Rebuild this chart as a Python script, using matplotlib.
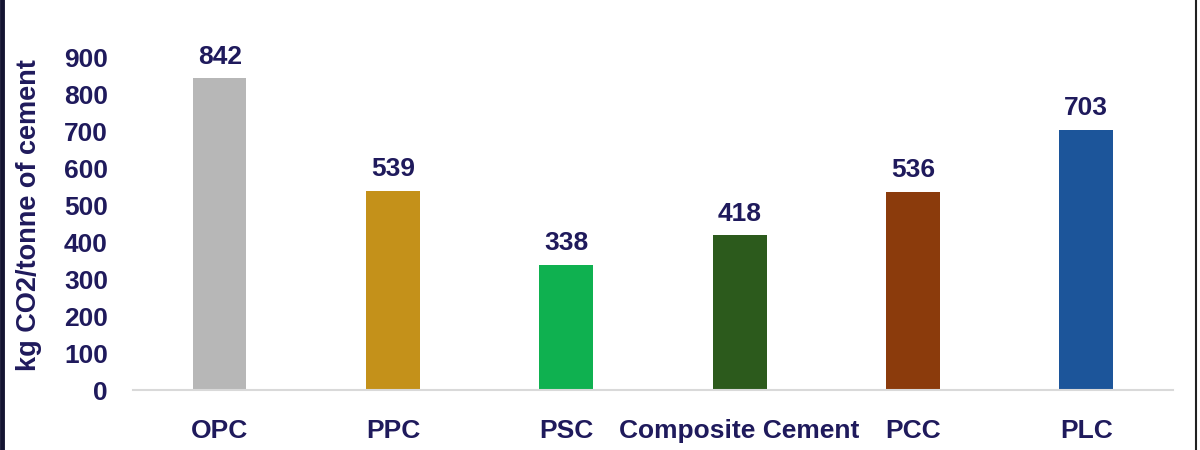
import numpy as np
import matplotlib.pyplot as plt
from matplotlib.lines import Line2D

categories = ['OPC', 'PPC', 'PSC', 'Composite Cement', 'PCC', 'PLC']
values = [842, 539, 338, 418, 536, 703]
colors = ['#b7b7b7', '#c4911a', '#0fb150', '#2c5a1c', '#8b3b0c', '#1c559a']
yticks = [0, 100, 200, 300, 400, 500, 600, 700, 800, 900]

navy = '#1f1a5c'
plt.rcParams['font.family'] = ['Liberation Sans', 'DejaVu Sans']
plt.rcParams['font.weight'] = 'bold'

fig = plt.figure(figsize=(12, 4.5), dpi=100)
ax = fig.add_axes([0.1108, 0.1333, 0.8667, 0.74])

x = np.arange(len(categories))
bars = ax.bar(x, values, width=0.31, color=colors)

for rect, v in zip(bars, values):
    ax.annotate(str(v), (rect.get_x() + rect.get_width() / 2, v),
                xytext=(0, 7), textcoords='offset points',
                ha='center', va='bottom', fontsize=19, fontweight='bold', color=navy)

ax.set_xlim(-0.5, len(categories) - 0.5)
ax.set_ylim(0, 900)
ax.set_yticks(yticks)
ax.set_yticklabels([str(t) for t in yticks], fontsize=19, fontweight='bold', color=navy)
ax.set_xticks(x)
ax.set_xticklabels(categories, fontsize=19, fontweight='bold', color=navy)
ax.tick_params(axis='both', length=0)
ax.tick_params(axis='y', pad=18)
ax.tick_params(axis='x', pad=21)

for s in ['top', 'right', 'left']:
    ax.spines[s].set_visible(False)
ax.spines['bottom'].set_color('#d9d9d9')
ax.spines['bottom'].set_linewidth(1.5)

ax.set_ylabel('kg CO2/tonne of cement', fontsize=19.5, fontweight='bold', color=navy)
ax.yaxis.set_label_coords(-0.087, 0.525)

# frame edges from the screenshot
fig.add_artist(Line2D([0.0015, 0.0015], [0, 1], transform=fig.transFigure, color='#141432', linewidth=3.5))
fig.add_artist(Line2D([0.9965, 0.9965], [0, 1], transform=fig.transFigure, color='#202020', linewidth=1.5))

fig.savefig('out.png', dpi=100)
